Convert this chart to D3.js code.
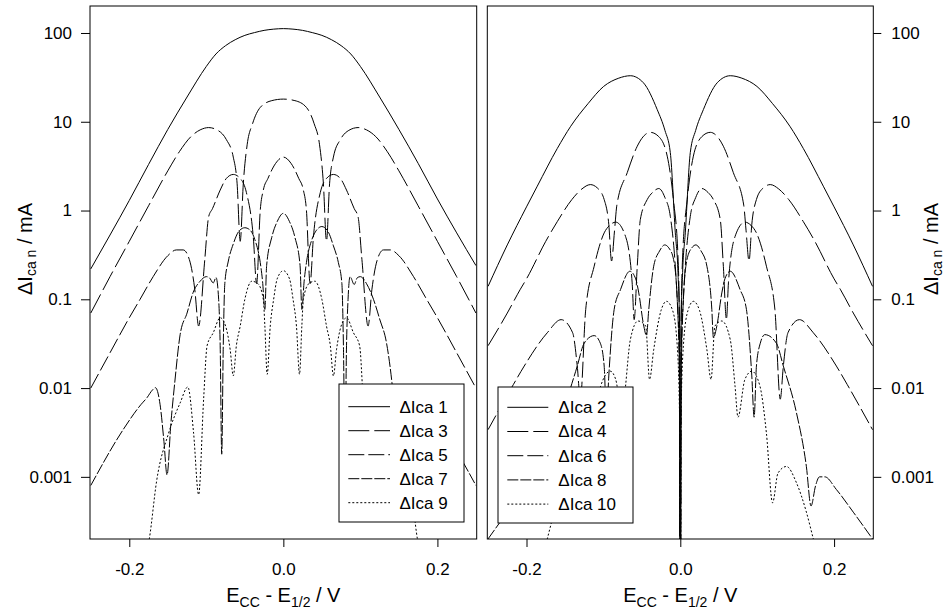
<!DOCTYPE html>
<html>
<head>
<meta charset="utf-8">
<script src="https://cdn.jsdelivr.net/npm/d3@7"></script>
<style>
  body { margin: 0; background: #fff; }
  svg text { font-family: "Liberation Sans", Arial, sans-serif; fill: #000; }
</style>
</head>
<body>
<svg id="chart" width="947" height="614"></svg>
<script>
// tick values and labels
const xTicks = [-0.2, 0, 0.2];
const xTickLabels = ["-0.2", "0.0", "0.2"];
const yTicks = [0.001, 0.01, 0.1, 1, 10, 100];
const yTickLabels = ["0.001", "0.01", "0.1", "1", "10", "100"];

const oddNames = ["\u0394Ica 1", "\u0394Ica 3", "\u0394Ica 5", "\u0394Ica 7", "\u0394Ica 9"];
const evenNames = ["\u0394Ica 2", "\u0394Ica 4", "\u0394Ica 6", "\u0394Ica 8", "\u0394Ica 10"];

// [E - E1/2 (V), delta I (mA)]
const ica1 = [[-0.25,0.22],[-0.225,0.53],[-0.2,1.3],[-0.175,3.3],[-0.15,8.2],[-0.125,19],[-0.1,42],[-0.0875,58],[-0.075,72],[-0.0625,84],
  [-0.05,94],[-0.0375,101],[-0.025,107],[-0.0125,110.5],[0,112],
  [0.0125,110.5],[0.025,107],[0.0375,101],[0.05,94],[0.0625,84],[0.075,72],[0.0875,58],[0.1,42],[0.125,19],[0.15,8.2],[0.175,3.4],
  [0.2,1.35],[0.225,0.56],[0.25,0.24]];

const ica3 = [[-0.25,0.07],[-0.225,0.18],[-0.2,0.45],[-0.175,1.13],[-0.15,2.8],[-0.135,4.6],[-0.12,6.8],[-0.108,8.1],[-0.097,8.6],[-0.085,8.0],
  [-0.074,6.3],[-0.065,4.0],[-0.06,2.0],[-0.056,0.45],[-0.052,2.0],[-0.047,5.5],[-0.04,9.5],[-0.03,14.5],[-0.015,17.3],[0,18],
  [0.015,17.3],[0.03,14.5],[0.04,9.5],[0.047,5.5],[0.052,2.0],[0.056,0.45],[0.06,2.0],[0.065,4.0],[0.074,6.3],[0.085,8.0],
  [0.097,8.6],[0.108,8.1],[0.12,6.8],[0.135,4.6],[0.15,2.8],[0.175,1.13],[0.2,0.45],[0.225,0.18],[0.25,0.07]];

const ica5 = [[-0.25,0.01],[-0.225,0.025],[-0.2,0.062],[-0.186,0.1],[-0.169,0.18],[-0.15,0.31],[-0.139,0.36],[-0.13,0.36],[-0.122,0.28],
  [-0.115,0.13],[-0.11,0.05],[-0.102,0.28],[-0.097,0.85],[-0.092,1.05],[-0.082,1.7],[-0.074,2.3],[-0.065,2.55],[-0.056,2.3],[-0.048,1.6],
  [-0.039,0.5],[-0.0347,0.15],[-0.03,1.0],[-0.026,1.7],[-0.02,2.3],[-0.01,3.4],[0,4.0],
  [0.01,3.4],[0.02,2.3],[0.026,1.7],[0.03,1.0],[0.0347,0.15],[0.039,0.5],[0.048,1.6],[0.056,2.3],[0.065,2.55],[0.074,2.3],[0.082,1.7],
  [0.092,1.05],[0.097,0.85],[0.102,0.28],[0.11,0.05],[0.115,0.13],[0.122,0.28],[0.13,0.36],[0.139,0.36],[0.15,0.31],[0.169,0.18],
  [0.186,0.1],[0.2,0.062],[0.225,0.025],[0.25,0.01]];

const ica7 = [[-0.25,0.0008],[-0.208,0.0034],[-0.185,0.0065],[-0.177,0.0078],[-0.17,0.0095],[-0.166,0.0101],[-0.16,0.0065],[-0.155,0.0025],
  [-0.151,0.00105],[-0.146,0.004],[-0.141,0.0115],[-0.134,0.04],[-0.125,0.07],[-0.117,0.12],[-0.108,0.16],[-0.1,0.18],[-0.096,0.175],
  [-0.091,0.153],[-0.0874,0.176],[-0.084,0.1],[-0.082,0.03],[-0.08,0.0018],[-0.078,0.03],[-0.076,0.15],[-0.0714,0.27],[-0.065,0.42],
  [-0.058,0.58],[-0.05,0.64],[-0.043,0.6],[-0.037,0.47],[-0.03,0.26],[-0.027,0.16],[-0.024,0.077],[-0.0217,0.24],[-0.015,0.5],[-0.008,0.75],[0,0.93],
  [0.008,0.75],[0.015,0.5],[0.0217,0.24],[0.024,0.077],[0.027,0.16],[0.03,0.26],[0.037,0.47],[0.043,0.6],[0.05,0.66],[0.058,0.58],
  [0.065,0.4],[0.0714,0.26],[0.076,0.15],[0.078,0.03],[0.08,0.0018],[0.082,0.03],[0.084,0.1],[0.0866,0.18],[0.092,0.147],[0.096,0.175],
  [0.1,0.18],[0.108,0.15],[0.117,0.1],[0.125,0.06],[0.134,0.032],[0.141,0.0115],[0.146,0.004],[0.151,0.00105],[0.155,0.0025],[0.16,0.0065],
  [0.166,0.0101],[0.17,0.0095],[0.177,0.0078],[0.185,0.0065],[0.208,0.0034],[0.25,0.0008]];

const ica9 = [[-0.185,0.00008],[-0.174,0.0002],[-0.1645,0.0009],[-0.149,0.0031],[-0.134,0.0068],[-0.124,0.0103],[-0.1165,0.0031],
  [-0.11,0.00063],[-0.1035,0.0075],[-0.099,0.03],[-0.091,0.042],[-0.082,0.062],[-0.075,0.05],[-0.069,0.027],[-0.065,0.0137],[-0.061,0.03],
  [-0.056,0.05],[-0.05,0.1],[-0.041,0.16],[-0.033,0.15],[-0.026,0.1],[-0.024,0.05],[-0.021,0.0143],[-0.017,0.05],[-0.0126,0.1],[-0.008,0.17],[0,0.21],
  [0.008,0.17],[0.0126,0.1],[0.017,0.05],[0.021,0.0143],[0.024,0.05],[0.026,0.1],[0.033,0.15],[0.041,0.16],[0.05,0.1],[0.056,0.05],
  [0.061,0.03],[0.065,0.0137],[0.069,0.027],[0.075,0.05],[0.082,0.062],[0.091,0.042],[0.099,0.03],[0.1035,0.0075],[0.11,0.00063],
  [0.1165,0.0031],[0.124,0.0103],[0.134,0.0068],[0.149,0.0031],[0.1645,0.0009],[0.174,0.0002],[0.185,0.00008]];

const ica2 = [[-0.25,0.14],[-0.225,0.41],[-0.2,1.1],[-0.186,1.88],[-0.16,5],[-0.1425,8.9],[-0.12,16],[-0.0997,25],[-0.08,31],[-0.065,33],
  [-0.048,27.5],[-0.03,13.7],[-0.02,8],[-0.013,4.5],[-0.0065,0.56],[-0.003,0.2],[-0.001,0.05],[0,0.000001],
  [0.001,0.05],[0.003,0.2],[0.0065,0.56],[0.013,4.5],[0.02,8],[0.03,13.7],[0.048,27.5],[0.065,33],[0.08,31],[0.0997,25],[0.12,16],
  [0.1425,8.9],[0.16,5],[0.186,1.88],[0.2,1.1],[0.225,0.41],[0.25,0.14]];

const ica4 = [[-0.25,0.03],[-0.225,0.07],[-0.208,0.13],[-0.2,0.17],[-0.175,0.45],[-0.16,0.75],[-0.141,1.33],[-0.128,1.75],[-0.117,1.96],
  [-0.108,1.8],[-0.099,1.33],[-0.093,0.7],[-0.0894,0.27],[-0.0855,0.6],[-0.0825,1.15],[-0.069,2.67],[-0.056,5.3],[-0.05,6.5],[-0.039,7.6],
  [-0.028,6.8],[-0.017,4.1],[-0.009,1.33],[-0.003,0.3],[-0.001,0.05],[0,0.000001],
  [0.001,0.05],[0.003,0.3],[0.009,1.33],[0.017,4.1],[0.028,6.8],[0.039,7.6],[0.05,6.5],[0.056,5.3],[0.069,2.67],[0.0825,1.15],[0.0855,0.6],
  [0.0894,0.27],[0.093,0.7],[0.099,1.33],[0.108,1.8],[0.117,1.96],[0.128,1.75],[0.141,1.33],[0.16,0.75],[0.175,0.45],[0.2,0.17],
  [0.208,0.13],[0.225,0.07],[0.25,0.03]];

const ica6 = [[-0.25,0.0034],[-0.217,0.011],[-0.203,0.0177],[-0.173,0.042],[-0.155,0.059],[-0.14,0.042],[-0.134,0.0177],[-0.13,0.0075],
  [-0.123,0.077],[-0.112,0.236],[-0.099,0.56],[-0.092,0.68],[-0.084,0.74],[-0.0712,0.51],[-0.0626,0.153],[-0.06,0.059],[-0.056,0.235],
  [-0.052,0.79],[-0.043,1.33],[-0.036,1.6],[-0.028,1.77],[-0.02,1.4],[-0.013,0.86],[-0.0065,0.236],[-0.004,0.1],[-0.001,0.02],[0,0.000001],
  [0.001,0.02],[0.004,0.1],[0.0065,0.236],[0.013,0.86],[0.02,1.4],[0.028,1.77],[0.036,1.6],[0.043,1.33],[0.052,0.79],[0.056,0.235],
  [0.06,0.059],[0.0626,0.153],[0.0712,0.51],[0.084,0.74],[0.092,0.68],[0.099,0.56],[0.112,0.236],[0.123,0.077],[0.13,0.0075],
  [0.134,0.0177],[0.14,0.042],[0.155,0.059],[0.173,0.042],[0.203,0.0177],[0.217,0.011],[0.25,0.0034]];

const ica8 = [[-0.25,0.0002],[-0.225,0.0004],[-0.203,0.00072],[-0.188,0.001],[-0.181,0.001],[-0.176,0.0008],[-0.17,0.00047],[-0.164,0.0013],
  [-0.151,0.0053],[-0.134,0.0177],[-0.125,0.032],[-0.112,0.039],[-0.104,0.032],[-0.099,0.0177],[-0.096,0.0047],[-0.093,0.0137],[-0.086,0.077],
  [-0.0777,0.129],[-0.0656,0.207],[-0.058,0.17],[-0.054,0.118],[-0.0475,0.05],[-0.044,0.039],[-0.041,0.077],[-0.0346,0.236],[-0.027,0.35],
  [-0.0203,0.41],[-0.015,0.38],[-0.0087,0.28],[-0.004,0.1],[-0.001,0.01],[0,0.000001],
  [0.001,0.01],[0.004,0.1],[0.0087,0.28],[0.015,0.38],[0.0203,0.41],[0.027,0.35],[0.0346,0.236],[0.041,0.077],[0.043,0.037],[0.0475,0.05],
  [0.054,0.118],[0.058,0.17],[0.065,0.207],[0.0777,0.129],[0.086,0.077],[0.093,0.0137],[0.096,0.0047],[0.099,0.0177],[0.104,0.032],
  [0.11,0.04],[0.125,0.032],[0.134,0.0177],[0.151,0.0053],[0.164,0.0013],[0.17,0.00047],[0.176,0.0008],[0.181,0.001],[0.188,0.001],
  [0.203,0.00072],[0.225,0.0004],[0.25,0.0002]];

const ica10 = [[-0.185,0.00008],[-0.173,0.0002],[-0.164,0.0004],[-0.151,0.00086],[-0.138,0.00131],[-0.127,0.0011],[-0.12,0.00051],
  [-0.112,0.0031],[-0.1036,0.0105],[-0.091,0.0155],[-0.084,0.0125],[-0.075,0.0047],[-0.0712,0.0105],[-0.065,0.035],[-0.055,0.057],
  [-0.045,0.05],[-0.04,0.0125],[-0.0346,0.027],[-0.025,0.075],[-0.018,0.095],[-0.01,0.075],[-0.004,0.03],[-0.001,0.005],[0,0.000001],
  [0.001,0.005],[0.004,0.03],[0.01,0.075],[0.017,0.095],[0.025,0.075],[0.0346,0.027],[0.04,0.0125],[0.045,0.05],[0.054,0.057],
  [0.065,0.035],[0.0712,0.0105],[0.075,0.0047],[0.084,0.0125],[0.093,0.0155],[0.1036,0.0105],[0.112,0.0031],[0.12,0.00051],
  [0.127,0.0011],[0.138,0.00131],[0.151,0.00086],[0.164,0.0004],[0.173,0.0002],[0.185,0.00008]];

// line styles, one per legend row
const dashes = [null, "21,5", "16,4", "11,2", "2,2"];

const svg = d3.select("#chart");
const plotTop = 6, plotBottom = 539;

const y = d3.scaleLog()
  .domain([Math.pow(10, -3.7), Math.pow(10, 2.304)])
  .range([plotBottom, plotTop]);

const panels = [
  { id: "l", x0: 90, x1: 476.7, series: [ica1, ica3, ica5, ica7, ica9], names: oddNames, side: "left",
    legend: { x: 339, y: 384, w: 125, h: 138, lx0: 348.3, lx1: 390, tx: 399.5, ry: 406.7, dy: 24 } },
  { id: "r", x0: 487.3, x1: 873.3, series: [ica2, ica4, ica6, ica8, ica10], names: evenNames, side: "right",
    legend: { x: 498, y: 387, w: 135, h: 136, lx0: 507.3, lx1: 548.3, tx: 558.3, ry: 407.3, dy: 24.2 } }
];

panels.forEach(p => {
  const x = d3.scaleLinear().domain([-0.251, 0.251]).range([p.x0, p.x1]);

  svg.append("clipPath").attr("id", "clip-" + p.id)
    .append("rect")
    .attr("x", p.x0).attr("y", plotTop)
    .attr("width", p.x1 - p.x0).attr("height", plotBottom - plotTop);

  const line = d3.line()
    .x(d => x(d[0]))
    .y(d => y(d[1]))
    .curve(d3.curveMonotoneX);

  const g = svg.append("g").attr("clip-path", `url(#clip-${p.id})`);
  p.series.forEach((s, i) => {
    g.append("path")
      .datum(s)
      .attr("d", line)
      .attr("fill", "none")
      .attr("stroke", "#000")
      .attr("stroke-width", 1)
      .attr("stroke-dasharray", dashes[i]);
  });

  // frame
  svg.append("rect")
    .attr("x", p.x0).attr("y", plotTop)
    .attr("width", p.x1 - p.x0).attr("height", plotBottom - plotTop)
    .attr("fill", "none").attr("stroke", "#000").attr("stroke-width", 1);

  // x axis
  const xa = svg.append("g")
    .attr("transform", `translate(0,${plotBottom})`)
    .call(d3.axisBottom(x).tickValues(xTicks).tickSize(8).tickPadding(16)
      .tickFormat((d, i) => xTickLabels[i]));
  xa.select(".domain").remove();
  xa.selectAll("text").style("font-size", "17px");

  // y axis
  const yAxis = p.side === "left"
    ? d3.axisLeft(y).tickSize(9).tickPadding(9)
    : d3.axisRight(y).tickSize(8).tickPadding(10);
  const ya = svg.append("g")
    .attr("transform", `translate(${p.side === "left" ? p.x0 : p.x1},0)`)
    .call(yAxis.tickValues(yTicks).tickFormat((d, i) => yTickLabels[i]));
  ya.select(".domain").remove();
  ya.selectAll("text").style("font-size", "17px");

  // x title
  const cx = x(0);
  const xt = svg.append("text")
    .attr("x", cx).attr("y", 602)
    .attr("text-anchor", "middle")
    .style("font-size", "20px");
  xt.append("tspan").text("E");
  xt.append("tspan").attr("dy", 5).style("font-size", "14px").text("CC");
  xt.append("tspan").attr("dy", -5).text(" - E");
  xt.append("tspan").attr("dy", 5).style("font-size", "14px").text("1/2");
  xt.append("tspan").attr("dy", -5).text(" / V");

  // y title
  const tx = p.side === "left" ? 32 : 938;
  const yt = svg.append("text")
    .attr("transform", `translate(${tx},249) rotate(-90)`)
    .attr("text-anchor", "middle")
    .style("font-size", "20px");
  yt.append("tspan").text("\u0394I");
  yt.append("tspan").attr("dy", 4).style("font-size", "14px").text("ca n");
  yt.append("tspan").attr("dy", -4).text(" / mA");

  // legend
  const L = p.legend;
  const lg = svg.append("g");
  lg.append("rect")
    .attr("x", L.x).attr("y", L.y).attr("width", L.w).attr("height", L.h)
    .attr("fill", "#fff").attr("stroke", "#000").attr("stroke-width", 1);
  p.names.forEach((name, i) => {
    const ry = L.ry + i * L.dy;
    lg.append("line")
      .attr("x1", L.lx0).attr("x2", L.lx1)
      .attr("y1", ry).attr("y2", ry)
      .attr("stroke", "#000").attr("stroke-width", 1)
      .attr("stroke-dasharray", dashes[i]);
    lg.append("text")
      .attr("x", L.tx).attr("y", ry).attr("dy", "0.35em")
      .style("font-size", "17px")
      .text(name);
  });
});
</script>
</body>
</html>
